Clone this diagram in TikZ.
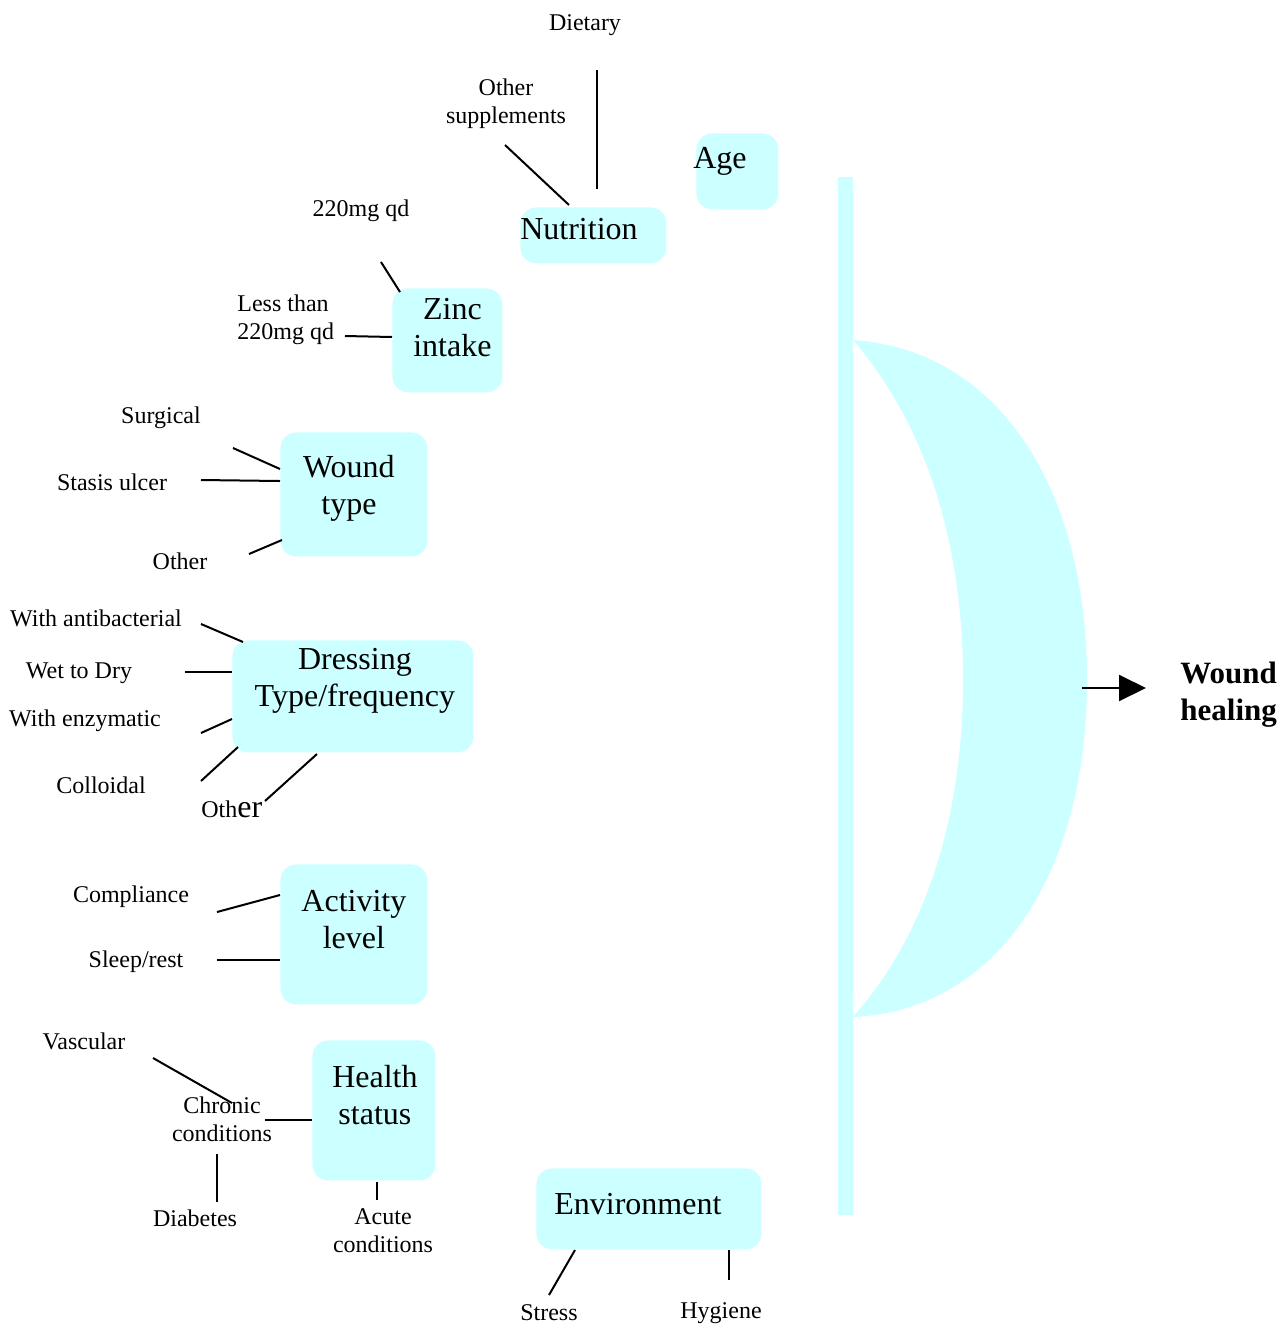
\documentclass[tikz,border=0pt]{standalone}
\usepackage{fontspec}
\setmainfont{Liberation Serif}
\usetikzlibrary{calc,arrows.meta}
\definecolor{BoxCyan}{HTML}{CCFFFF}
\tikzset{
	box/.style={rectangle, rounded corners=8pt, fill=BoxCyan, anchor=north west, inner sep=0pt},
	boxtext/.style={align=center, font=\fontsize{16}{18.5}\selectfont, inner sep=0pt},
	small/.style={align=center, font=\fontsize{12}{14}\selectfont, inner sep=0pt, yshift=-1pt},
	link/.style={line width=1pt},
}

\begin{document}
\begin{tikzpicture}[x=0.5pt,y=-0.5pt]
		\useasboundingbox (0,0) rectangle (1282,1324);
		% factor boxes
		\node (age)    [box,minimum width=41pt,minimum height=38pt]   at (696,133)  {};
		\node (nutri)  [box,minimum width=73pt,minimum height=28pt]   at (520,207)  {};
		\node (zinc)   [box,minimum width=55pt,minimum height=52pt]   at (392,288)  {};
		\node (wtype)  [box,minimum width=73.5pt,minimum height=62pt] at (280,432)  {};
		\node (dress)  [box,minimum width=120.5pt,minimum height=56pt] at (232,640) {};
		\node (act)    [box,minimum width=73.5pt,minimum height=70pt] at (280,864)  {};
		\node (health) [box,minimum width=61.5pt,minimum height=70pt] at (312,1040) {};
		\node (env)    [box,minimum width=112.5pt,minimum height=40.5pt] at (536,1168) {};
		\node [boxtext] at ($(age.north west)+(24,28)$) {Age};
		\node [boxtext] at ($(nutri.north west)+(59,22)$) {Nutrition};
		\node [boxtext] at ($(zinc.center)+(5,-13)$) {Zinc\\intake};
		\node [boxtext] at ($(wtype.center)+(-5,-6)$) {Wound\\type};
		\node [boxtext] at ($(dress.center)+(2,-16)$) {Dressing\\Type/frequency};
		\node [boxtext] at ($(act.center)+(0,-15)$) {Activity\\level};
		\node [boxtext] at ($(health.center)+(1,-15)$) {Health\\status};
		\node [boxtext] at ($(env.center)+(-11,-5)$) {Environment};
		% healing side
		\fill [BoxCyan] (838,177) rectangle (853,1215);
		\fill [BoxCyan] (853,340) .. controls (1000,350) and (1087,490) .. (1087,680)
			.. controls (1087,870) and (1000,1010) .. (853,1017)
			.. controls (930,930) and (963,810) .. (963,680)
			.. controls (963,550) and (930,430) .. (853,340) -- cycle;
		\node (heal) [align=left, font=\bfseries\fontsize{15.5}{18.5}\selectfont, inner sep=0pt, anchor=west] at (1180,695) {Wound\\healing};
		\coordinate (bulge) at (1082,688);
		\draw [link,-{Triangle[length=13.5pt,width=13pt]}] (bulge) -- ($(heal.west|-bulge)+(-34,0)$);
		% sub-factors
		\node (diet)   [small] at (585,23)  {Dietary};
		\node (osupp)  [small] at (506,102) {Other\\supplements};
		\node (z220)   [small] at (361,209) {220mg qd};
		\node (zless)  [small,align=left,anchor=west] at (237,318) {Less than\\220mg qd};
		\node (surg)   [small] at (161,416) {Surgical};
		\node (stasis) [small] at (112,480) {Stasis ulcer};
		\node (wother) [small] at (180,559) {Other};
		\node (antib)  [small] at (96,616)  {With antibacterial};
		\node (wetdry) [small] at (79,671)  {Wet to Dry};
		\node (enzym)  [small] at (85,719)  {With enzymatic};
		\node (coll)   [small] at (101,783) {Colloidal};
		\node (dother) [small,anchor=base west] at (201,815) {Oth{\fontsize{16}{16}\selectfont er}};
		\node (compl)  [small] at (131,895) {Compliance};
		\node (sleep)  [small] at (136,960) {Sleep/rest};
		\node (vasc)   [small] at (84,1039) {Vascular};
		\node (chron)  [small] at (222,1117) {Chronic\\conditions};
		\node (diab)   [small] at (195,1216) {Diabetes};
		\node (acute)  [small] at (383,1229) {Acute\\conditions};
		\node (stress) [small] at (549,1311) {Stress};
		\node (hyg)    [small] at (721,1311) {Hygiene};
		% connectors
		\draw [link] ($(nutri.north west)+(77,-137)$) -- ($(nutri.north west)+(77,-18)$);
		\draw [link] ($(nutri.north west)+(-15,-62)$) -- ($(nutri.north west)+(49,-2)$);
		\draw [link] ($(zinc.north west)+(-11,-26)$) -- ($(zinc.north west)+(8,4)$);
		\draw [link] ($(zinc.north west)+(-47,48)$) -- ($(zinc.north west)+(0,49)$);
		\draw [link] ($(wtype.north west)+(-47,16)$) -- ($(wtype.north west)+(0,37)$);
		\draw [link] ($(wtype.north west)+(-79,48)$) -- ($(wtype.north west)+(0,49)$);
		\draw [link] ($(wtype.north west)+(-31,122)$) -- ($(wtype.north west)+(2,108)$);
		\draw [link] ($(dress.north west)+(-31,-16)$) -- ($(dress.north west)+(11,2)$);
		\draw [link] ($(dress.north west)+(-47,32)$) -- ($(dress.north west)+(0,32)$);
		\draw [link] ($(dress.north west)+(-31,93)$) -- ($(dress.north west)+(0,79)$);
		\draw [link] ($(dress.north west)+(-31,141)$) -- ($(dress.north west)+(6,107)$);
		\draw [link] ($(dress.north west)+(33,161)$) -- ($(dress.north west)+(85,114)$);
		\draw [link] ($(act.north west)+(-63,48)$) -- ($(act.north west)+(0,31)$);
		\draw [link] ($(act.north west)+(-63,96)$) -- ($(act.north west)+(0,96)$);
		\draw [link] ($(health.north west)+(-47,80)$) -- ($(health.north west)+(0,80)$);
		\draw [link] ($(health.north west)+(65,142)$) -- ($(health.north west)+(65,160)$);
		\draw [link] ($(chron.center)+(-69,-61)$) -- ($(chron.center)+(10,-16)$);
		\draw [link] ($(chron.center)+(-5,35)$) -- ($(chron.center)+(-5,83)$);
		\draw [link] ($(env.north west)+(39,82)$) -- ($(env.north west)+(13,127)$);
		\draw [link] ($(env.north west)+(193,82)$) -- ($(env.north west)+(193,112)$);
	\end{tikzpicture}
\end{document}
